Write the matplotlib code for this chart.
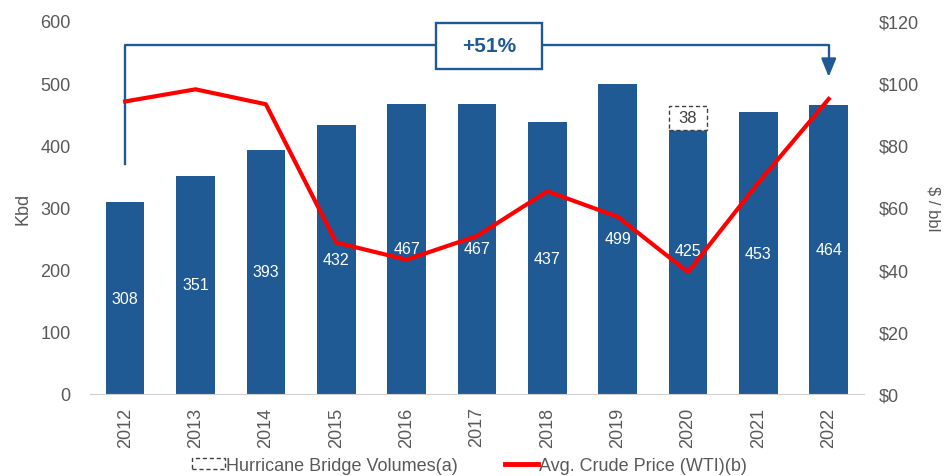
import numpy as np
import matplotlib
matplotlib.use('Agg')
import matplotlib.pyplot as plt
from matplotlib.patches import Patch, Rectangle
from matplotlib.lines import Line2D

years = ['2012', '2013', '2014', '2015', '2016', '2017', '2018', '2019', '2020', '2021', '2022']
volumes = [308, 351, 393, 432, 467, 467, 437, 499, 425, 453, 464]
bridge = [0, 0, 0, 0, 0, 0, 0, 0, 38, 0, 0]
wti = [94.1, 98.0, 93.2, 48.7, 43.2, 50.8, 65.2, 57.0, 39.2, 68.0, 94.9]

blue = '#1F5A94'
grey = '#595959'
plt.rcParams['font.family'] = ['Liberation Sans', 'DejaVu Sans']

fig = plt.figure(figsize=(9.45, 4.77), dpi=100)
ax = fig.add_axes([0.0952, 0.172, 0.819, 0.782])
ax2 = ax.twinx()
ax.set_zorder(ax2.get_zorder() - 1)
ax2.patch.set_visible(False)

x = np.arange(len(years))
ax.bar(x, volumes, width=0.55, color=blue, zorder=2)
tops = np.array(volumes) + np.array(bridge)
for i, b in enumerate(bridge):
    if b > 0:
        ax.bar(i, b, bottom=volumes[i], width=0.55, facecolor='white',
               edgecolor='#404040', linestyle=(0, (3, 2)), linewidth=1, zorder=2)
        ax.text(i, volumes[i] + b / 2, str(b), ha='center', va='center',
                fontsize=12, color='#404040', zorder=3)
for i, v in enumerate(volumes):
    ax.text(i, tops[i] / 2, str(v), ha='center', va='center', color='white',
            fontsize=11.5, zorder=3)

ax2.plot(x, wti, color='#FF0000', lw=3, zorder=4)

ax.set_xlim(-0.5, 10.5)
ax.set_ylim(0, 600)
ax2.set_ylim(0, 120)
ax.set_yticks(range(0, 601, 100))
ax2.set_yticks(range(0, 121, 20))
ax2.set_yticklabels(['$%d' % v for v in range(0, 121, 20)])
ax.set_xticks(x)
ax.set_xticklabels(years, rotation=90)

for a in (ax, ax2):
    for s in a.spines.values():
        s.set_visible(False)
    a.tick_params(length=0, colors=grey, labelsize=13)
ax.spines['bottom'].set_visible(True)
ax.spines['bottom'].set_color('#D0D0D0')
ax.tick_params(axis='y', pad=14)
ax.tick_params(axis='x', pad=9)
ax2.tick_params(axis='y', pad=11)

ax.set_ylabel('Kbd', color=grey, fontsize=13, labelpad=6)
ax2.set_ylabel('$ / bbl', color=grey, fontsize=12, rotation=-90, labelpad=15)

# +51% bracket
ax.plot([0, 0, 4.42], [370, 561, 561], color=blue, lw=1.7, zorder=5, clip_on=False)
ax.plot([5.92, 10, 10], [561, 561, 530], color=blue, lw=1.7, zorder=5, clip_on=False)
ax.annotate('', xy=(10, 510), xytext=(10, 532),
            arrowprops=dict(arrowstyle='-|>,head_width=0.45,head_length=1.1',
                            color=blue, lw=1.7, shrinkA=0, shrinkB=0), zorder=5)
ax.add_patch(Rectangle((4.42, 523), 1.5, 74, facecolor='white', edgecolor=blue,
                       lw=1.7, zorder=6, clip_on=False))
ax.text(5.17, 560, '+51%', ha='center', va='center', fontsize=15, fontweight='bold',
        color=blue, zorder=7)

handles = [Patch(facecolor='white', edgecolor='#404040', linestyle=(0, (3, 2)), lw=1),
           Line2D([0], [0], color='#FF0000', lw=3.5)]
fig.legend(handles, ['Hurricane Bridge Volumes(a)', 'Avg. Crude Price (WTI)(b)'],
           loc='center', bbox_to_anchor=(0.497, 0.022), ncol=2, frameon=False,
           prop={'size': 13}, labelcolor=grey, handlelength=1.8, handleheight=0.5,
           handletextpad=0.1, columnspacing=2.6)

fig.savefig('out.png', dpi=100)
